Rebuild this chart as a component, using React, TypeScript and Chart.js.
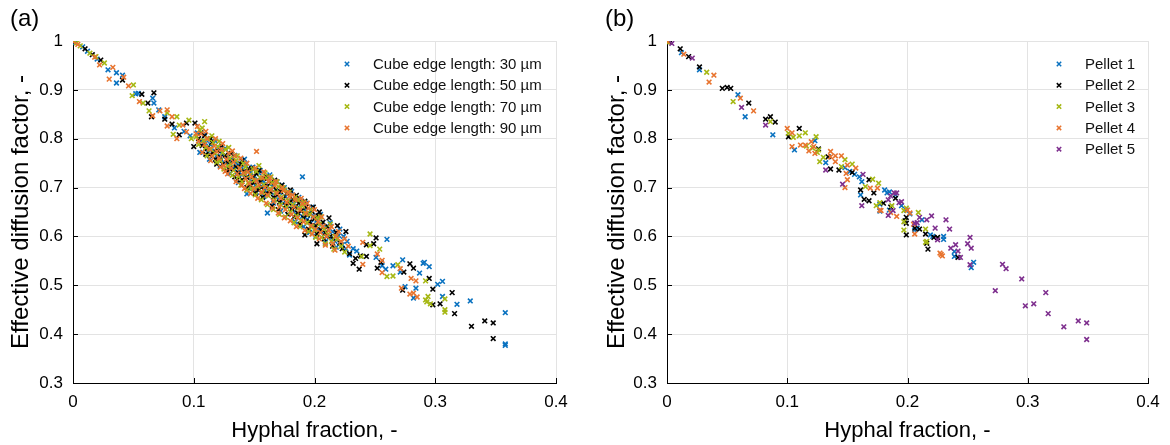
import React, { useEffect, useRef } from 'react';
import { Chart, registerables } from 'chart.js';

Chart.register(...registerables);

type Pt = [number, number];

// ---------- Panel (a): cube edge lengths ----------
const cube30: Pt[] = [
  [0.002,0.997],[0.008,0.988],[0.012,0.979],[0.02,0.963],[0.029,0.941],[0.036,0.935],[0.041,0.93],[0.036,0.914],
  [0.052,0.892],[0.054,0.893],[0.066,0.883],[0.067,0.873],[0.071,0.859],[0.076,0.845],[0.084,0.822],[0.092,0.815],
  [0.097,0.806],[0.11,0.791],
  [0.103,0.812],[0.106,0.795],[0.108,0.79],[0.112,0.772],[0.114,0.788],[0.117,0.776],[0.119,0.765],[0.121,0.781],
  [0.123,0.77],[0.125,0.752],[0.127,0.764],[0.129,0.745],[0.131,0.758],[0.133,0.741],[0.135,0.75],[0.136,0.732],
  [0.138,0.745],[0.14,0.726],[0.141,0.738],[0.143,0.748],[0.144,0.687],[0.145,0.722],[0.147,0.731],[0.148,0.712],
  [0.15,0.724],[0.151,0.705],[0.153,0.716],[0.154,0.73],[0.156,0.703],[0.157,0.714],[0.159,0.695],[0.16,0.708],
  [0.161,0.648],[0.162,0.719],[0.164,0.69],[0.165,0.702],[0.167,0.684],[0.168,0.697],[0.17,0.676],[0.171,0.69],
  [0.173,0.705],[0.174,0.668],[0.176,0.681],[0.177,0.663],[0.179,0.674],[0.18,0.688],[0.182,0.655],[0.183,0.667],
  [0.185,0.645],[0.186,0.659],[0.188,0.672],[0.19,0.722],[0.19,0.641],[0.192,0.653],[0.194,0.635],[0.195,0.648],
  [0.197,0.628],[0.199,0.642],[0.2,0.62],[0.202,0.633],[0.204,0.612],[0.206,0.625],[0.208,0.604],[0.21,0.618],
  [0.212,0.598],[0.215,0.61],[0.217,0.59],[0.22,0.602],[0.223,0.583],[0.226,0.575],
  [0.105,0.772],[0.109,0.808],[0.113,0.758],[0.118,0.795],[0.122,0.744],[0.126,0.78],[0.13,0.729],[0.134,0.766],
  [0.137,0.71],[0.142,0.758],[0.146,0.698],[0.149,0.742],[0.152,0.69],[0.155,0.735],[0.158,0.682],[0.163,0.726],
  [0.166,0.668],[0.169,0.712],[0.172,0.652],[0.175,0.7],[0.178,0.645],[0.181,0.692],[0.184,0.63],[0.187,0.68],
  [0.191,0.62],[0.193,0.668],[0.196,0.608],[0.198,0.66],[0.201,0.6],[0.205,0.645],[0.209,0.588],[0.213,0.628],
  [0.218,0.578],[0.221,0.615],[0.224,0.6],[0.227,0.59],[0.232,0.575],[0.235,0.57],
  [0.229,0.562],[0.251,0.557],[0.256,0.54],[0.259,0.533],[0.26,0.594],[0.265,0.54],[0.271,0.527],[0.273,0.552],
  [0.275,0.497],[0.282,0.474],[0.284,0.494],[0.287,0.525],[0.29,0.545],[0.291,0.547],[0.295,0.538],[0.302,0.502],
  [0.306,0.508],[0.306,0.477],[0.318,0.461],[0.329,0.468],[0.358,0.444],[0.358,0.38],[0.358,0.377],
];

const cube50: Pt[] = [
  [0.001,0.999],[0.01,0.984],[0.016,0.972],[0.023,0.961],[0.041,0.92],[0.057,0.891],[0.067,0.894],[0.062,0.873],
  [0.065,0.845],[0.076,0.84],[0.082,0.83],[0.088,0.808],[0.094,0.832],[0.101,0.832],[0.1,0.784],
  [0.104,0.8],[0.107,0.786],[0.109,0.806],[0.111,0.78],[0.113,0.767],[0.115,0.792],[0.116,0.772],[0.118,0.758],
  [0.12,0.776],[0.122,0.762],[0.124,0.748],[0.126,0.766],[0.128,0.752],[0.13,0.738],[0.132,0.755],[0.134,0.722],
  [0.135,0.742],[0.137,0.73],[0.139,0.748],[0.14,0.716],[0.142,0.733],[0.144,0.721],[0.145,0.738],[0.147,0.705],
  [0.149,0.722],[0.15,0.71],[0.152,0.728],[0.153,0.696],[0.155,0.713],[0.156,0.7],[0.158,0.719],[0.16,0.688],
  [0.161,0.703],[0.163,0.692],[0.164,0.71],[0.166,0.68],[0.168,0.696],[0.169,0.685],[0.171,0.67],[0.172,0.692],
  [0.174,0.677],[0.176,0.664],[0.177,0.688],[0.179,0.668],[0.181,0.656],[0.182,0.676],[0.184,0.66],[0.186,0.648],
  [0.187,0.668],[0.189,0.652],[0.191,0.638],[0.193,0.66],[0.194,0.644],[0.196,0.63],[0.198,0.651],[0.2,0.636],
  [0.201,0.622],[0.203,0.642],[0.205,0.614],[0.207,0.629],[0.209,0.607],[0.211,0.62],[0.213,0.6],[0.216,0.595],
  [0.218,0.608],[0.221,0.587],
  [0.106,0.812],[0.11,0.768],[0.114,0.8],[0.119,0.748],[0.123,0.785],[0.127,0.735],[0.131,0.77],[0.136,0.716],
  [0.14,0.755],[0.144,0.7],[0.148,0.74],[0.151,0.688],[0.154,0.735],[0.157,0.68],[0.16,0.722],[0.165,0.662],
  [0.167,0.715],[0.17,0.655],[0.173,0.705],[0.178,0.645],[0.18,0.695],[0.183,0.64],[0.185,0.684],[0.188,0.625],
  [0.192,0.672],[0.195,0.615],[0.199,0.66],[0.202,0.605],[0.204,0.65],[0.208,0.595],[0.212,0.638],[0.215,0.58],
  [0.219,0.622],[0.223,0.575],[0.226,0.61],[0.229,0.565],[0.234,0.555],[0.238,0.56],
  [0.192,0.603],[0.202,0.585],[0.232,0.545],[0.237,0.533],[0.243,0.559],[0.243,0.583],[0.249,0.585],[0.251,0.597],
  [0.252,0.535],[0.255,0.547],[0.273,0.49],[0.274,0.527],[0.279,0.544],[0.282,0.535],[0.295,0.514],[0.298,0.492],
  [0.298,0.46],[0.304,0.462],[0.314,0.485],[0.316,0.442],[0.33,0.416],[0.341,0.427],[0.348,0.423],[0.348,0.391],
];

const cube70: Pt[] = [
  [0.0,1.0],[0.003,0.996],[0.006,0.99],[0.014,0.975],[0.019,0.968],[0.026,0.955],[0.049,0.888],[0.05,0.91],
  [0.058,0.873],[0.063,0.857],[0.078,0.853],[0.083,0.809],[0.086,0.845],[0.088,0.828],[0.096,0.838],[0.098,0.8],
  [0.109,0.835],
  [0.102,0.804],[0.105,0.818],[0.108,0.796],[0.11,0.782],[0.112,0.8],[0.114,0.778],[0.116,0.792],[0.118,0.77],
  [0.12,0.784],[0.122,0.755],[0.124,0.771],[0.126,0.778],[0.128,0.744],[0.13,0.76],[0.131,0.748],[0.133,0.735],
  [0.135,0.755],[0.137,0.722],[0.138,0.74],[0.14,0.712],[0.142,0.728],[0.143,0.742],[0.145,0.71],[0.147,0.726],
  [0.148,0.698],[0.15,0.715],[0.152,0.733],[0.153,0.702],[0.155,0.72],[0.157,0.69],[0.158,0.706],[0.16,0.72],
  [0.162,0.683],[0.163,0.698],[0.165,0.71],[0.167,0.675],[0.168,0.69],[0.17,0.702],[0.172,0.665],[0.173,0.681],
  [0.175,0.695],[0.177,0.66],[0.178,0.673],[0.18,0.65],[0.182,0.665],[0.184,0.68],[0.185,0.642],[0.187,0.658],
  [0.189,0.633],[0.19,0.662],[0.192,0.648],[0.194,0.628],[0.196,0.645],[0.198,0.62],[0.2,0.613],[0.202,0.638],
  [0.204,0.625],[0.206,0.598],[0.208,0.615],[0.211,0.604],[0.214,0.59],[0.216,0.574],[0.219,0.595],
  [0.104,0.788],[0.107,0.822],[0.111,0.765],[0.115,0.806],[0.119,0.752],[0.121,0.795],[0.125,0.738],[0.129,0.782],
  [0.132,0.725],[0.136,0.765],[0.139,0.705],[0.141,0.75],[0.144,0.695],[0.149,0.738],[0.151,0.685],[0.154,0.745],
  [0.156,0.675],[0.159,0.73],[0.161,0.665],[0.164,0.722],[0.166,0.655],[0.169,0.712],[0.171,0.645],[0.174,0.7],
  [0.176,0.64],[0.179,0.69],[0.183,0.628],[0.186,0.675],[0.188,0.62],[0.191,0.67],[0.195,0.61],[0.197,0.655],
  [0.201,0.598],[0.205,0.64],[0.209,0.585],[0.213,0.625],[0.217,0.6],[0.222,0.58],[0.225,0.568],
  [0.239,0.559],[0.246,0.581],[0.246,0.605],[0.254,0.574],[0.26,0.518],[0.265,0.519],[0.269,0.542],[0.292,0.509],
  [0.292,0.47],[0.293,0.466],[0.294,0.477],[0.296,0.462],[0.308,0.472],[0.308,0.45],[0.308,0.445],
];

const cube90: Pt[] = [
  [0.0,0.999],[0.004,0.993],[0.018,0.967],[0.022,0.951],[0.03,0.922],[0.033,0.946],[0.042,0.926],[0.046,0.908],
  [0.055,0.876],[0.066,0.847],[0.072,0.857],[0.078,0.859],[0.078,0.826],[0.082,0.845],[0.086,0.8],[0.091,0.828],
  [0.094,0.814],[0.102,0.81],
  [0.104,0.795],[0.106,0.81],[0.109,0.788],[0.111,0.8],[0.113,0.779],[0.115,0.765],[0.117,0.785],[0.119,0.774],
  [0.121,0.76],[0.123,0.778],[0.125,0.745],[0.126,0.733],[0.127,0.758],[0.129,0.77],[0.131,0.74],[0.133,0.752],
  [0.134,0.765],[0.136,0.728],[0.138,0.74],[0.14,0.705],[0.141,0.73],[0.143,0.718],[0.145,0.732],[0.146,0.708],
  [0.148,0.722],[0.15,0.698],[0.152,0.774],[0.152,0.714],[0.154,0.705],[0.156,0.69],[0.157,0.72],[0.159,0.7],
  [0.161,0.685],[0.162,0.712],[0.164,0.695],[0.166,0.672],[0.167,0.704],[0.169,0.688],[0.171,0.66],[0.172,0.678],
  [0.174,0.694],[0.176,0.655],[0.177,0.67],[0.179,0.682],[0.181,0.645],[0.183,0.66],[0.184,0.675],[0.186,0.638],
  [0.188,0.654],[0.19,0.667],[0.191,0.63],[0.193,0.647],[0.195,0.658],[0.197,0.622],[0.199,0.64],[0.201,0.615],
  [0.203,0.63],[0.205,0.608],[0.207,0.621],[0.21,0.6],[0.212,0.612],[0.215,0.585],[0.218,0.6],[0.222,0.59],
  [0.103,0.825],[0.107,0.772],[0.11,0.815],[0.114,0.755],[0.118,0.8],[0.122,0.742],[0.124,0.79],[0.128,0.728],
  [0.132,0.775],[0.135,0.712],[0.139,0.76],[0.142,0.698],[0.144,0.75],[0.147,0.688],[0.151,0.74],[0.153,0.678],
  [0.158,0.732],[0.16,0.668],[0.163,0.72],[0.165,0.658],[0.168,0.712],[0.17,0.648],[0.173,0.7],[0.175,0.638],
  [0.178,0.69],[0.18,0.632],[0.182,0.685],[0.185,0.62],[0.189,0.678],[0.192,0.612],[0.194,0.668],[0.198,0.605],
  [0.2,0.655],[0.204,0.595],[0.206,0.64],[0.209,0.582],[0.214,0.62],[0.217,0.572],[0.22,0.61],[0.225,0.595],
  [0.228,0.58],
  [0.24,0.588],[0.24,0.543],[0.252,0.564],[0.256,0.526],[0.256,0.551],[0.271,0.534],[0.272,0.494],[0.28,0.514],
  [0.279,0.482],[0.282,0.484],[0.284,0.509],[0.285,0.476],
];

// ---------- Panel (b): pellets ----------
const pellet1: Pt[] = [
  [0.012,0.976],[0.027,0.941],[0.059,0.89],[0.065,0.845],[0.088,0.808],[0.106,0.777],[0.123,0.796],[0.132,0.751],
  [0.148,0.741],[0.152,0.733],[0.156,0.727],[0.16,0.722],[0.162,0.712],[0.161,0.685],[0.177,0.666],[0.177,0.652],
  [0.181,0.695],[0.183,0.689],[0.185,0.691],[0.19,0.685],[0.185,0.654],[0.195,0.663],[0.199,0.654],[0.202,0.646],
  [0.206,0.613],[0.208,0.617],[0.212,0.634],[0.219,0.603],[0.221,0.6],[0.23,0.6],[0.23,0.594],[0.239,0.569],
  [0.239,0.559],[0.255,0.547],[0.253,0.536],
];

const pellet2: Pt[] = [
  [0.002,0.998],[0.011,0.984],[0.018,0.968],[0.027,0.947],[0.046,0.903],[0.05,0.905],[0.053,0.903],[0.068,0.873],
  [0.082,0.84],[0.086,0.845],[0.09,0.834],[0.101,0.804],[0.11,0.821],[0.126,0.779],[0.134,0.763],[0.136,0.738],
  [0.143,0.736],[0.154,0.731],[0.168,0.716],[0.161,0.695],[0.164,0.676],[0.168,0.673],[0.172,0.689],[0.18,0.668],
  [0.186,0.66],[0.19,0.678],[0.198,0.632],[0.199,0.627],[0.199,0.639],[0.199,0.603],[0.206,0.617],[0.21,0.615],
  [0.215,0.605],[0.216,0.586],[0.217,0.574],[0.222,0.598],[0.225,0.598],[0.242,0.557],
];

const pellet3: Pt[] = [
  [0.001,0.997],[0.033,0.936],[0.055,0.876],[0.086,0.835],[0.101,0.811],[0.105,0.803],[0.11,0.806],[0.115,0.812],
  [0.124,0.804],[0.116,0.785],[0.121,0.781],[0.126,0.777],[0.125,0.772],[0.13,0.762],[0.127,0.753],[0.148,0.757],
  [0.154,0.748],[0.145,0.743],[0.165,0.702],[0.171,0.717],[0.176,0.709],[0.174,0.663],[0.177,0.669],[0.187,0.663],
  [0.197,0.653],[0.199,0.658],[0.209,0.649],[0.197,0.613],[0.197,0.63],[0.215,0.615],[0.215,0.588],[0.216,0.59],
];

const pellet4: Pt[] = [
  [0.0,1.0],[0.014,0.973],[0.039,0.93],[0.035,0.916],[0.061,0.883],[0.072,0.857],[0.1,0.821],[0.104,0.812],
  [0.104,0.784],[0.111,0.787],[0.115,0.787],[0.12,0.794],[0.122,0.784],[0.118,0.775],[0.123,0.77],[0.136,0.774],
  [0.136,0.763],[0.14,0.765],[0.145,0.765],[0.14,0.753],[0.15,0.746],[0.149,0.729],[0.157,0.74],[0.15,0.716],
  [0.148,0.7],[0.169,0.699],[0.175,0.699],[0.177,0.654],[0.178,0.653],[0.186,0.649],[0.191,0.641],[0.2,0.654],
  [0.202,0.648],[0.205,0.625],[0.206,0.605],[0.227,0.566],[0.228,0.563],[0.229,0.56],
];

const pellet5: Pt[] = [
  [0.004,0.995],[0.021,0.965],[0.062,0.864],[0.082,0.828],[0.132,0.736],[0.146,0.707],[0.163,0.727],[0.162,0.663],
  [0.184,0.675],[0.186,0.683],[0.189,0.689],[0.191,0.689],[0.193,0.669],[0.195,0.671],[0.184,0.643],[0.188,0.653],
  [0.206,0.627],[0.208,0.628],[0.21,0.639],[0.216,0.634],[0.22,0.642],[0.223,0.617],[0.232,0.634],[0.235,0.615],
  [0.225,0.593],[0.236,0.576],[0.24,0.583],[0.242,0.57],[0.244,0.557],[0.252,0.598],[0.25,0.585],[0.253,0.576],
  [0.252,0.542],[0.279,0.543],[0.282,0.534],[0.273,0.489],[0.295,0.513],[0.315,0.485],[0.298,0.458],[0.305,0.462],
  [0.317,0.442],[0.33,0.415],[0.342,0.427],[0.349,0.423],[0.349,0.389],
];

const labelsA = ['Cube edge length: 30 µm', 'Cube edge length: 50 µm', 'Cube edge length: 70 µm', 'Cube edge length: 90 µm'];
const labelsB = ['Pellet 1', 'Pellet 2', 'Pellet 3', 'Pellet 4', 'Pellet 5'];
const colorsA = ['#0a72c0', '#000000', '#a6b814', '#e8742f'];
const colorsB = ['#0a72c0', '#000000', '#a6b814', '#e8742f', '#7e2f8e'];
const xTickValues = [0, 0.1, 0.2, 0.3, 0.4];
const yTickValues = [0.3, 0.4, 0.5, 0.6, 0.7, 0.8, 0.9, 1];
const xTitle = 'Hyphal fraction, -';
const yTitle = 'Effective diffusion factor, -';

const FONT = '"Liberation Sans", Arial, Helvetica, sans-serif';
const W = 585;
const H = 445;

interface PanelProps {
  series: Pt[][];
  labels: string[];
  colors: string[];
  tag: string;
  tagX: number;
  plotLeft: number;
  plotRight: number;
  legendX: number;
  yTitlePad: number;
}

function fmt(v: number): string {
  return String(Math.round(v * 10) / 10);
}

function Panel(props: PanelProps) {
  const ref = useRef<HTMLCanvasElement | null>(null);
  useEffect(() => {
    const { series, labels, colors, tag, tagX, plotLeft, plotRight, legendX, yTitlePad } = props;
    const n = series.length;
    const decor = {
      id: 'decor',
      beforeDatasetsDraw(chart: any) {
        const ctx = chart.ctx;
        const { left, bottom } = chart.chartArea;
        const xs = chart.scales.x;
        const ys = chart.scales.y;
        ctx.save();
        ctx.strokeStyle = '#000';
        ctx.lineWidth = 1;
        for (const v of xTickValues) {
          const px = Math.round(xs.getPixelForValue(v)) + 0.5;
          ctx.beginPath();
          ctx.moveTo(px, bottom);
          ctx.lineTo(px, bottom - 5);
          ctx.stroke();
        }
        for (const v of yTickValues) {
          const py = Math.round(ys.getPixelForValue(v)) + 0.5;
          ctx.beginPath();
          ctx.moveTo(left, py);
          ctx.lineTo(left + 5, py);
          ctx.stroke();
        }
        ctx.restore();
      },
      afterDraw(chart: any) {
        const ctx = chart.ctx;
        ctx.save();
        ctx.fillStyle = '#000';
        ctx.font = `24px ${FONT}`;
        ctx.textBaseline = 'alphabetic';
        ctx.textAlign = 'left';
        ctx.fillText(tag, tagX, 26);
        ctx.font = `15px ${FONT}`;
        ctx.textBaseline = 'middle';
        labels.forEach((lab, i) => {
          const y = 64 + i * 21.3;
          const d = 2.2;
          ctx.strokeStyle = colors[i];
          ctx.lineWidth = 1.5;
          ctx.beginPath();
          ctx.moveTo(legendX - d, y - d);
          ctx.lineTo(legendX + d, y + d);
          ctx.moveTo(legendX - d, y + d);
          ctx.lineTo(legendX + d, y - d);
          ctx.stroke();
          ctx.fillStyle = '#111';
          ctx.fillText(lab, legendX + 26, y + 1);
        });
        ctx.restore();
      },
    };
    const chart = new Chart(ref.current as HTMLCanvasElement, {
      type: 'scatter',
      data: {
        datasets: series.map((s, i) => ({
          label: labels[i],
          data: s.map(([x, y]) => ({ x, y })),
          pointStyle: 'crossRot',
          pointRadius: 3.3,
          pointHoverRadius: 3.3,
          pointBorderWidth: 1.6,
          borderColor: colors[i],
          backgroundColor: colors[i],
          order: n - i,
        })),
      },
      options: {
        responsive: false,
        animation: false,
        events: [],
        layout: { padding: { left: 0, right: W - plotRight, top: 41, bottom: 0 } },
        plugins: { legend: { display: false }, tooltip: { enabled: false } },
        scales: {
          x: {
            type: 'linear',
            min: 0,
            max: 0.4,
            afterBuildTicks: (s: any) => { s.ticks = xTickValues.map((v) => ({ value: v })); },
            afterFit: (s: any) => { s.height = H - 383; },
            ticks: {
              autoSkip: false,
              maxRotation: 0,
              padding: 9,
              color: '#000',
              font: { family: FONT, size: 17 },
              callback: (v: any) => fmt(Number(v)),
            },
            grid: { color: '#e3e3e3', lineWidth: 1, drawTicks: false },
            border: { color: '#000', width: 1 },
            title: {
              display: true,
              text: xTitle,
              color: '#000',
              font: { family: FONT, size: 22 },
              padding: { top: 0, bottom: 1 },
            },
          },
          y: {
            type: 'linear',
            min: 0.3,
            max: 1,
            afterBuildTicks: (s: any) => { s.ticks = yTickValues.map((v) => ({ value: v })); },
            afterFit: (s: any) => { s.width = plotLeft; },
            ticks: {
              autoSkip: false,
              padding: 10,
              color: '#000',
              font: { family: FONT, size: 17 },
              callback: (v: any) => fmt(Number(v)),
            },
            grid: { color: '#e3e3e3', lineWidth: 1, drawTicks: false },
            border: { color: '#000', width: 1 },
            title: {
              display: true,
              text: yTitle,
              color: '#000',
              font: { family: FONT, size: 24 },
              padding: { top: yTitlePad, bottom: 0 },
            },
          },
        },
      },
      plugins: [decor],
    } as any);
    return () => chart.destroy();
  }, []);
  return <canvas ref={ref} width={W} height={H} style={{ display: 'block', width: W, height: H }} />;
}

export default function App() {
  return (
    <div style={{ position: 'absolute', left: 0, top: 0, width: 1170, height: 445, display: 'flex', background: '#fff' }}>
      <Panel
        series={[cube30, cube50, cube70, cube90]}
        labels={labelsA}
        colors={colorsA}
        tag="(a)"
        tagX={10}
        plotLeft={73}
        plotRight={556}
        legendX={347}
        yTitlePad={7}
      />
      <Panel
        series={[pellet1, pellet2, pellet3, pellet4, pellet5]}
        labels={labelsB}
        colors={colorsB}
        tag="(b)"
        tagX={20}
        plotLeft={82}
        plotRight={563}
        legendX={474}
        yTitlePad={18}
      />
    </div>
  );
}
